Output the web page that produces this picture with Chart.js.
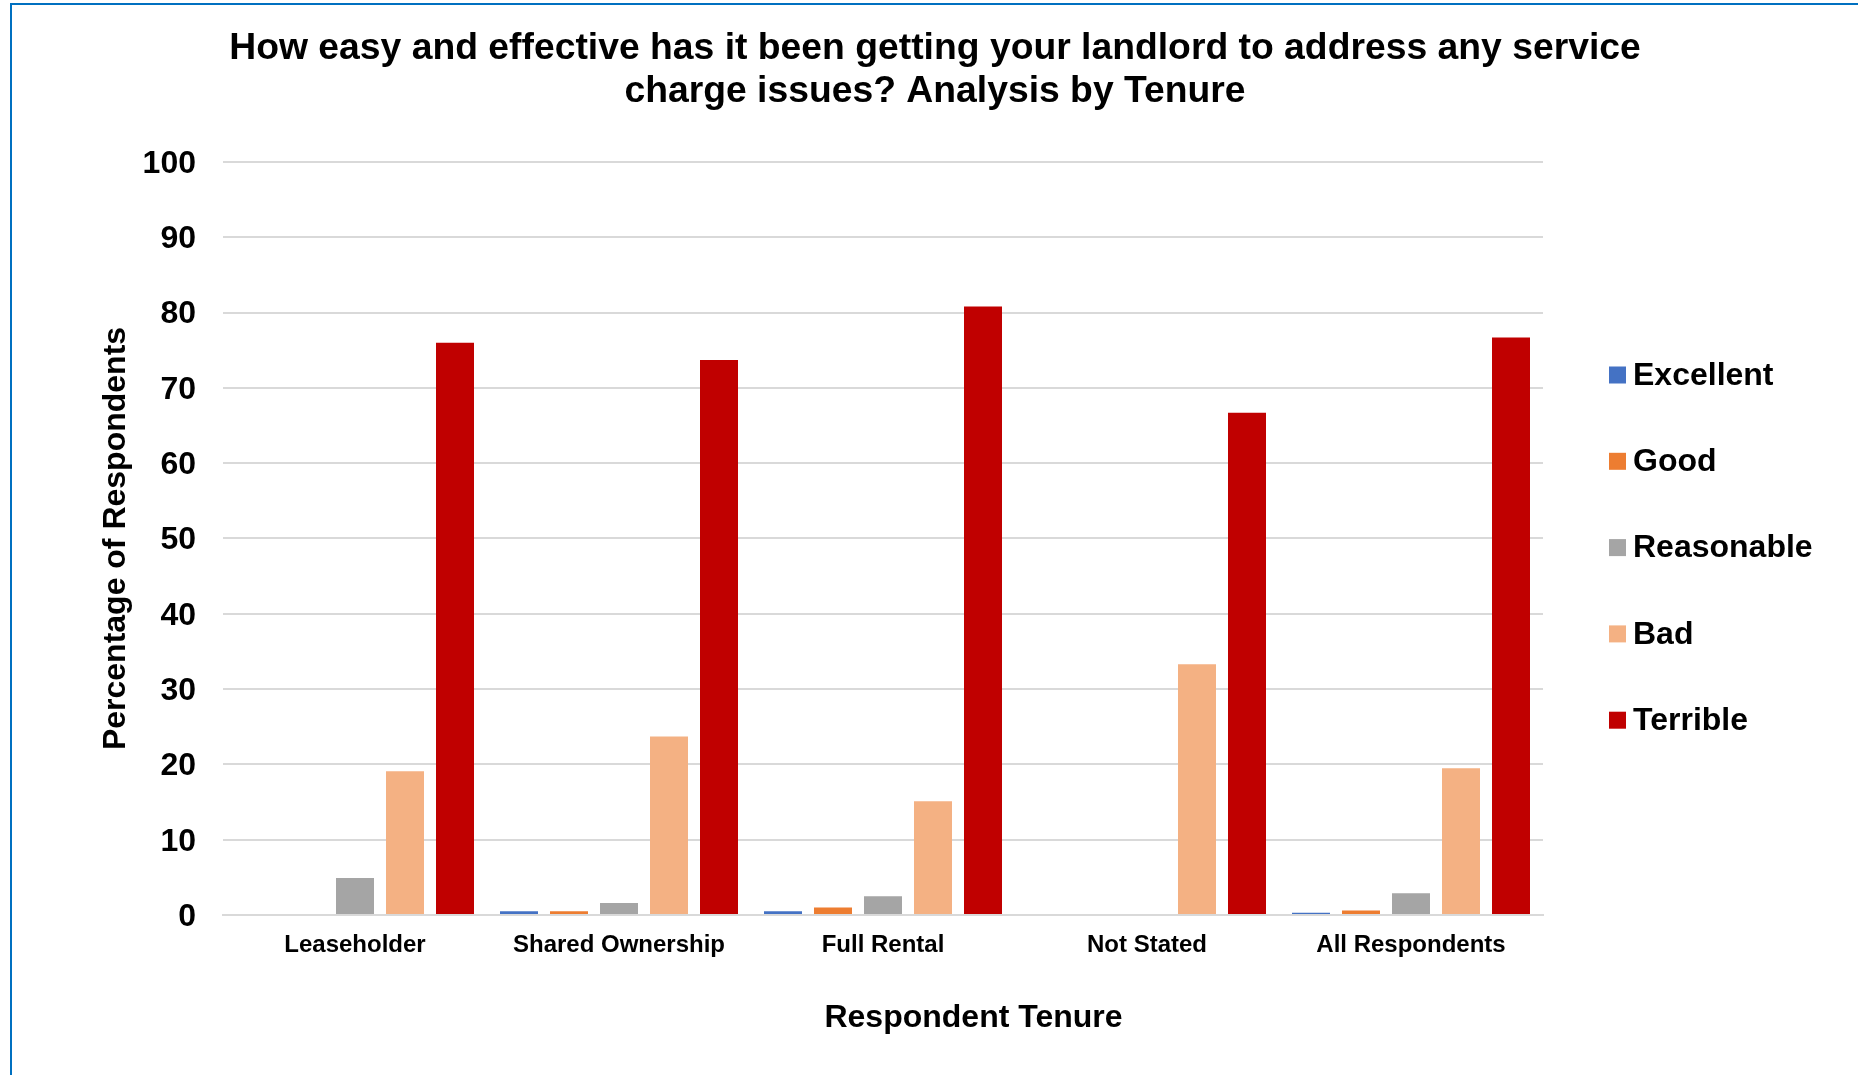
<!DOCTYPE html>
<html>
<head>
<meta charset="utf-8">
<script src="https://cdn.jsdelivr.net/npm/chart.js@4/dist/chart.umd.min.js"></script>
<style>
  html, body { margin: 0; padding: 0; background: #ffffff; }
  #wrap { position: relative; width: 1858px; height: 1075px; overflow: hidden; }
  #frame { position: absolute; left: 10px; top: 3px; width: 1900px; height: 1200px;
           border-left: 2px solid #0070C0; border-top: 2px solid #0070C0; pointer-events: none; }
  canvas { position: absolute; left: 0; top: 0; }
</style>
</head>
<body>
<div id="wrap">
  <canvas id="c" width="1858" height="1075"></canvas>
  <div id="frame"></div>
</div>
<script>
const titleLines = ['How easy and effective has it been getting your landlord to address any service', 'charge issues? Analysis by Tenure'];
const yAxisTitle = 'Percentage of Respondents';
const xAxisTitle = 'Respondent Tenure';
const categories = ['Leaseholder', 'Shared Ownership', 'Full Rental', 'Not Stated', 'All Respondents'];
const seriesNames = ['Excellent', 'Good', 'Reasonable', 'Bad', 'Terrible'];
const excellent  = [0, 0.5, 0.5, 0, 0.3];
const good       = [0, 0.5, 1.0, 0, 0.6];
const reasonable = [4.9, 1.6, 2.5, 0, 2.9];
const bad        = [19.1, 23.7, 15.1, 33.3, 19.5];
const terrible   = [76.0, 73.7, 80.8, 66.7, 76.7];
const seriesColors = ['#4472C4', '#ED7D31', '#A5A5A5', '#F4B183', '#C00000'];
const yTicks = [0, 10, 20, 30, 40, 50, 60, 70, 80, 90, 100];

const FONT = "'Liberation Sans', Arial, sans-serif";
const seriesValues = [excellent, good, reasonable, bad, terrible];

const datasets = seriesNames.map((name, i) => ({
  label: name,
  data: seriesValues[i],
  backgroundColor: seriesColors[i],
  borderWidth: 0,
  categoryPercentage: 0.947,
  barPercentage: 0.76
}));

const extrasPlugin = {
  id: 'extras',
  afterDraw(chart) {
    const ctx = chart.ctx;
    ctx.save();
    // x axis title
    ctx.fillStyle = '#000000';
    ctx.font = 'bold 32px ' + FONT;
    ctx.textAlign = 'center';
    ctx.textBaseline = 'middle';
    ctx.fillText(xAxisTitle, 973.5, 1018);
    // legend
    ctx.font = 'bold 32px ' + FONT;
    ctx.textAlign = 'left';
    chart.data.datasets.forEach((ds, i) => {
      const cy = 375 + i * 86.3;
      ctx.fillStyle = ds.backgroundColor;
      ctx.fillRect(1609, cy - 8.5, 17, 17);
      ctx.fillStyle = '#000000';
      ctx.fillText(ds.label, 1633, cy + 1);
    });
    ctx.restore();
  }
};

new Chart(document.getElementById('c'), {
  type: 'bar',
  data: { labels: categories, datasets: datasets },
  plugins: [extrasPlugin],
  options: {
    responsive: false,
    animation: false,
    devicePixelRatio: 1,
    layout: { padding: { left: 12, right: 0, top: 0, bottom: 0 } },
    plugins: {
      legend: { display: false },
      tooltip: { enabled: false },
      title: {
        display: true,
        text: titleLines,
        color: '#000000',
        font: { family: FONT, size: 37.3, weight: 'bold', lineHeight: 1.158 },
        padding: { top: 27, bottom: 48.6 }
      }
    },
    scales: {
      x: {
        grid: { display: false, drawTicks: false },
        border: { display: true, color: '#D9D9D9', width: 2 },
        ticks: { color: '#000000', font: { family: FONT, size: 24, weight: 'bold' }, padding: 15.5, maxRotation: 0, autoSkip: false },
        afterFit(s) { s.height = 160; }
      },
      y: {
        min: 0, max: 100,
        afterBuildTicks(s) { s.ticks = yTicks.map(v => ({ value: v })); },
        grid: { color: '#D9D9D9', lineWidth: 2, drawTicks: false },
        border: { display: false },
        ticks: { color: '#000000', font: { family: FONT, size: 32, weight: 'bold' }, padding: 27, labelOffset: 2 },
        title: { display: true, text: yAxisTitle, color: '#000000', font: { family: FONT, size: 32, weight: 'bold' }, padding: { top: 85, bottom: 0 } },
        afterFit(s) { s.width = 211; }
      },
      y2: {
        position: 'right',
        display: true,
        grid: { display: false, drawTicks: false },
        border: { display: false },
        ticks: { display: false },
        afterFit(s) { s.width = 315; }
      }
    }
  }
});
</script>
</body>
</html>
